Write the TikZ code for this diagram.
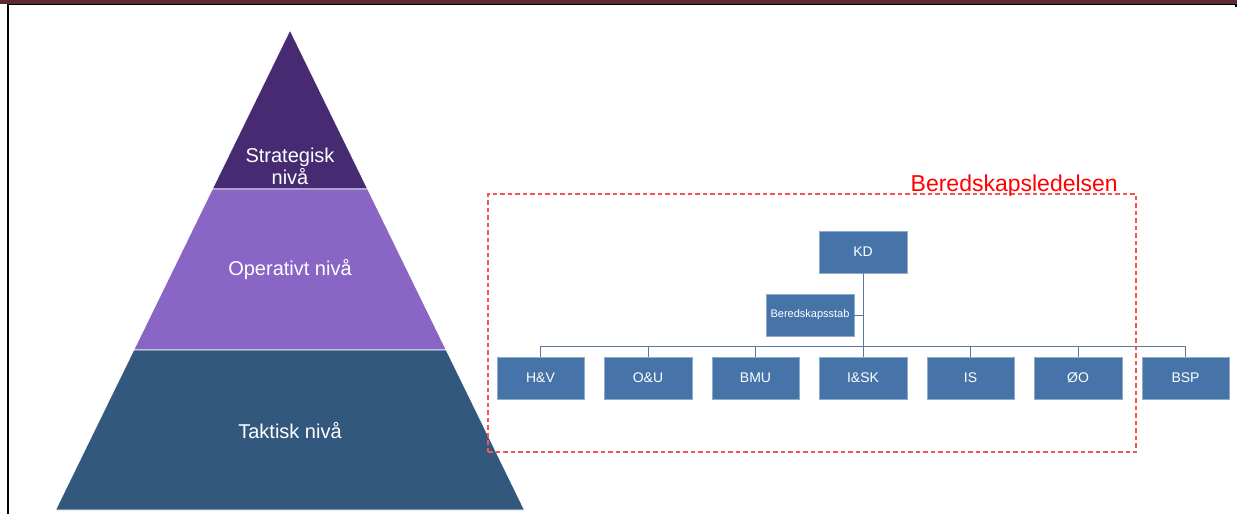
\documentclass[tikz,border=0pt]{standalone}
\usepackage{fontspec}
\setmainfont{Liberation Sans}
\usepackage{tikz}

\definecolor{bandred}{RGB}{92,42,51}
\definecolor{strategic}{RGB}{70,43,115}
\definecolor{operative}{RGB}{137,101,198}
\definecolor{tactical}{RGB}{50,88,126}
\definecolor{orgblue}{RGB}{70,116,168}
\definecolor{orgline}{RGB}{88,120,160}
\definecolor{framered}{RGB}{245,85,85}

\begin{document}
\begin{tikzpicture}[x=1pt, y=-1pt,
  orgbox/.style={draw=orgblue!60!white, fill=orgblue, rectangle, minimum width=87.5pt, minimum height=42.5pt, inner sep=0pt, text=white, font=\fontsize{14}{16}\selectfont},
  layer/.style={draw=white, line width=0.8pt},
  layertext/.style={text=white, align=center, font=\fontsize{20}{22}\selectfont}]
\useasboundingbox (0,0) rectangle (1237,514);

% Page border
\fill[bandred] (0,0) rectangle (1237,4);
\draw[black, line width=1.5pt] (8,4.5) -- (1236,4.5);
\draw[black, line width=2pt] (8,4) -- (8,514);
\draw[black, line width=1.5pt] (1236,4) -- (1236,7);

% Pyramid
\filldraw[layer, fill=strategic] (290,30) -- (367.7,189) -- (212.3,189) -- cycle;
\filldraw[layer, fill=operative] (212.3,189) -- (367.7,189) -- (446.3,350) -- (133.7,350) -- cycle;
\filldraw[layer, fill=tactical] (133.7,350) -- (446.3,350) -- (524.5,510) -- (55.5,510) -- cycle;
\node[layertext] (strat) at (290,166) {Strategisk\\niv\aa};
\node[layertext] (oper) at (290,270) {Operativt niv\aa};
\node[layertext] (takt) at (290,431) {Taktisk niv\aa};

% Beredskapsledelsen
\node[draw=framered, dashed, dash pattern=on 4.5pt off 3pt, line width=1.3pt, rectangle, minimum width=648pt, minimum height=258pt, inner sep=0pt] (frame) at (812,323) {};
\node[text=red, anchor=base east, inner sep=0pt, font=\fontsize{23}{25}\selectfont] (framelabel) at (1118,191) {Beredskapsledelsen};

% Top of the chart
\node[orgbox] (kd) at (863,252) {KD};
\node[orgbox, font=\fontsize{11}{13}\selectfont] (stab) at (810,315) {Beredskapsstab};
\coordinate (bar) at (863,346);

% Units
\node[orgbox] (hv) at (540.5,378) {H\&V};
\node[orgbox] (ou) at (648,378) {O\&U};
\node[orgbox] (bmu) at (755.5,378) {BMU};
\node[orgbox] (isk) at (863,378) {I\&SK};
\node[orgbox] (is) at (970.5,378) {IS};
\node[orgbox] (oo) at (1078,378) {\O O};
\node[orgbox] (bsp) at (1185.5,378) {BSP};

% Connectors
\draw[orgline, line width=1pt] (kd.south) -- (bar);
\draw[orgline, line width=1pt] (stab.east) -- (stab.east -| kd.south);
\draw[orgline, line width=1pt] (hv |- bar) -- (bsp |- bar);
\foreach \unit in {hv,ou,bmu,isk,is,oo,bsp}
  \draw[orgline, line width=1pt] (\unit.north) -- (\unit |- bar);
\end{tikzpicture}
\end{document}
